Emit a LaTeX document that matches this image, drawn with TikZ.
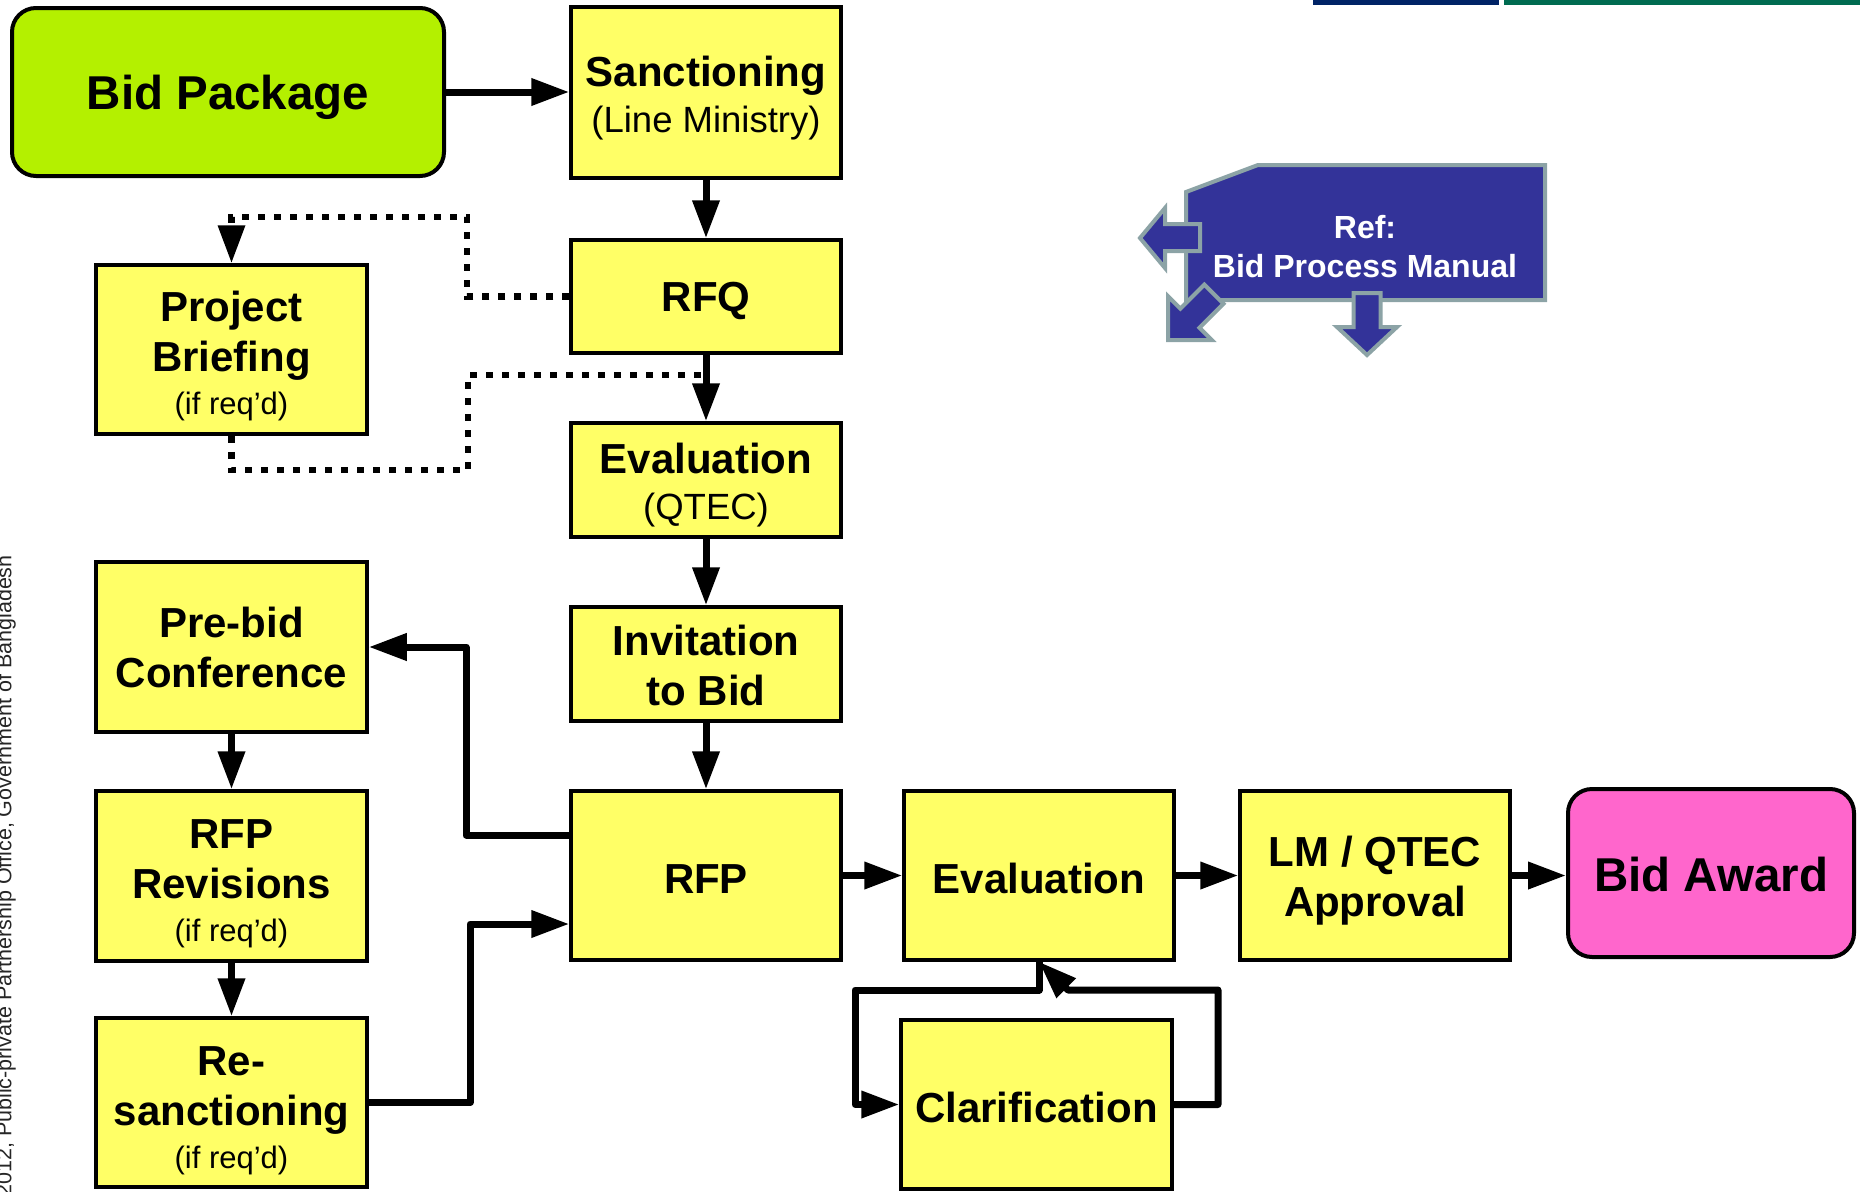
\documentclass[tikz,border=0pt]{standalone}
\usepackage{fontspec}
\setmainfont{Liberation Sans}
\usetikzlibrary{arrows.meta}
\definecolor{boxyellow}{RGB}{255,255,102}
\definecolor{pkggreen}{RGB}{180,240,0}
\definecolor{awardpink}{RGB}{255,102,204}
\definecolor{refblue}{RGB}{51,51,153}
\definecolor{refedge}{RGB}{140,163,166}
\definecolor{barblue}{RGB}{0,35,102}
\definecolor{bargreen}{RGB}{0,107,80}
\newcommand{\boxsub}[1]{{\mdseries\fontsize{36.5}{50}\selectfont #1}}
\newcommand{\boxreq}{{\mdseries\fontsize{31}{50}\selectfont (if req’d)}}
\newcommand{\lift}[1]{\rule{0pt}{#1pt}}
\begin{document}
\begin{tikzpicture}[x=1pt,y=-1pt,
  box/.style={draw=black, line width=3.5pt, fill=boxyellow, minimum width=270pt,
    inner sep=0pt, align=center, font=\bfseries\fontsize{42}{50}\selectfont},
  bigbox/.style={draw=black, line width=4pt, rounded corners=24pt, inner sep=0pt,
    align=center, font=\bfseries\fontsize{47.5}{55}\selectfont},
  conn/.style={line width=7pt, line join=round, -{Triangle[length=38pt,width=26pt]}},
  dots/.style={line width=6.5pt, dash pattern=on 7pt off 9pt},
  refarrow/.style={draw=refedge, line width=4pt, fill=refblue, line join=miter}
]
\useasboundingbox (0,0) rectangle (1860,1191);

% top bars
\fill[barblue] (1313,0) rectangle (1499,4.5);
\fill[bargreen] (1504,0) rectangle (1860,4.5);

% footer (cut at page edge)
\node[rotate=90, anchor=base east, inner sep=0pt, font=\fontsize{21.5}{25}\selectfont, text=black!85]
  (footer) at (11.5,555) {2012, Public-private Partnership Office, Government of Bangladesh};

% nodes
\node[bigbox, fill=pkggreen, minimum width=432pt, minimum height=168pt] (bidpkg) at (228,92) {\lift{45}Bid Package};
\node[box, minimum height=171pt] (sanct) at (706,92.5) {\lift{41}Sanctioning\\[-4pt]\boxsub{(Line Ministry)}};
\node[box, minimum height=113pt] (rfq) at (706,296.5) {\lift{38}RFQ};
\node[box, minimum height=114pt] (evalq) at (706,480) {\lift{41}Evaluation\\[-4pt]\boxsub{(QTEC)}};
\node[box, minimum height=114pt] (itb) at (706,664) {\lift{33}Invitation\\to Bid};
\node[box, minimum height=169pt] (rfp) at (706,875.5) {\lift{36}RFP};
\node[box, minimum height=169pt] (eval) at (1039,875.5) {\lift{36}Evaluation};
\node[box, minimum height=169pt] (lm) at (1375,875.5) {\lift{41}LM / QTEC\\Approval};
\node[bigbox, fill=awardpink, minimum width=286pt, minimum height=168pt] (award) at (1711,873) {\lift{37}Bid Award};
\node[box, minimum width=271pt, minimum height=169pt] (clar) at (1036.5,1104.5) {\lift{36}Clarification};
\node[box, minimum width=271pt, minimum height=169pt] (pb) at (231.5,349.5) {\lift{43}Project\\Briefing\\[-7pt]\boxreq};
\node[box, minimum width=271pt, minimum height=170pt] (prebid) at (231.5,647) {Pre-bid\\Conference};
\node[box, minimum width=271pt, minimum height=170pt] (rfprev) at (231.5,876) {\lift{45}RFP\\Revisions\\[-7pt]\boxreq};
\node[box, minimum width=271pt, minimum height=169pt] (resanct) at (231.5,1102.5) {\lift{45}Re-\\sanctioning\\[-7pt]\boxreq};

% main connectors
\draw[conn] (bidpkg.east) -- (sanct.west |- bidpkg.east);
\draw[conn] (sanct.south) -- (rfq.north);
\draw[conn] (rfq.south) -- (evalq.north);
\draw[conn] (evalq.south) -- (itb.north);
\draw[conn] (itb.south) -- (rfp.north);
\draw[conn] (rfp.east) -- (eval.west);
\draw[conn] (eval.east) -- (lm.west);
\draw[conn] (lm.east) -- (lm.east -| award.west);
\draw[conn] (prebid.south) -- (rfprev.north);
\draw[conn] (rfprev.south) -- (resanct.north);
\draw[conn] (rfp.west |- 0,835) -- (466,835) -- (466,647) -- (prebid.east);
\draw[conn] (resanct.east) -- (470,1102.5) -- (470,924) -- (rfp.west |- 0,924);

% clarification loop
\draw[conn] (eval.south) -- (1039,990) -- (855,990) -- (855,1104.5) -- (clar.west);
\draw[conn] (clar.east) -- (1218,1104.5) -- (1218,990) -- (1068,990) -- (eval.south);

% dotted connectors
\coordinate (join) at (706,375);
\draw[dots] (rfq.west) -- (467,296.5) -- (467,217) -- (231.5,217) -- (231.5,232);
\draw[line width=6.5pt, -{Triangle[length=38pt,width=26pt]}] (231.5,226) -- (pb.north);
\draw[dots] (pb.south) -- (231.5,470) -- (468,470) -- (468,375) -- (join);

% Ref shape
\draw[refarrow] (1258,165) -- (1545,165) -- (1545,300) -- (1186,300) -- (1186,192) -- cycle;
\node[text=white, font=\bfseries\fontsize{32}{39}\selectfont, align=center, inner sep=0pt] (ref) at (1365,247) {Ref:\\Bid Process Manual};
\draw[refarrow] (1200,224) -- (1165,224) -- (1165,208) -- (1140,238) -- (1165,268) -- (1165,251) -- (1200,251) -- cycle;
\draw[refarrow] (1353.5,293) -- (1380.5,293) -- (1380.5,327) -- (1397,327) -- (1367,355) -- (1337,327) -- (1353.5,327) -- cycle;
\draw[refarrow] (1168,340) -- (1211.8,340) -- (1199.5,327.7) -- (1223.5,303.7) -- (1204.4,284.6) -- (1180.4,308.6) -- (1168,296.2) -- cycle;
\end{tikzpicture}
\end{document}
